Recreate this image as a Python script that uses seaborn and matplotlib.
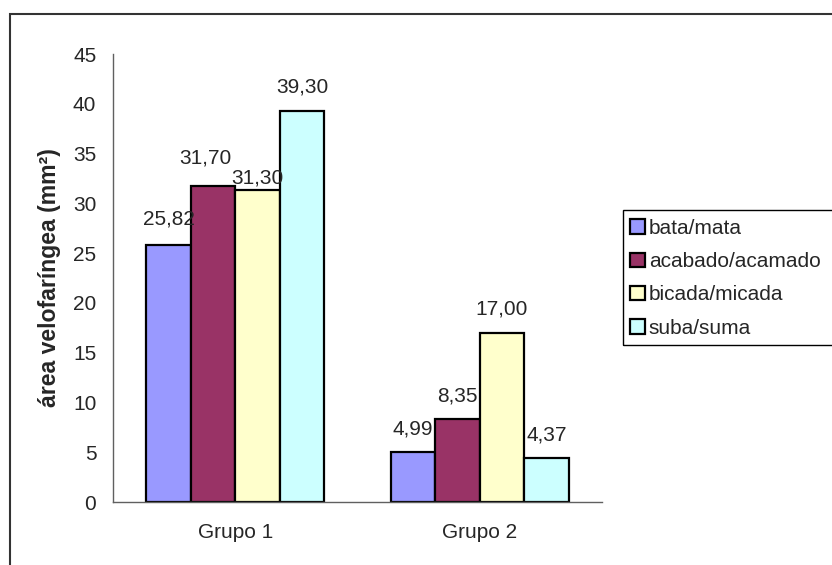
import matplotlib
matplotlib.use("Agg")
import matplotlib.pyplot as plt
from matplotlib.patches import Rectangle
import seaborn as sns
import pandas as pd

grupos = ["Grupo 1", "Grupo 2"]
pares = ["bata/mata", "acabado/acamado", "bicada/micada", "suba/suma"]
area_grupo1 = [25.82, 31.70, 31.30, 39.30]
area_grupo2 = [4.99, 8.35, 17.00, 4.37]
cores = ["#9999FF", "#993366", "#FFFFCC", "#CCFFFF"]
y_ticks = [0, 5, 10, 15, 20, 25, 30, 35, 40, 45]

# label nudges in pixels (dx, dy above the bar top), per group and pair
desloc_grupo1 = [(0, 20), (-8, 23), (0, 7), (0, 18)]
desloc_grupo2 = [(0, 18), (0, 17), (0, 18), (0, 17.5)]

df = pd.DataFrame({
    "grupo": [g for g, vals in zip(grupos, [area_grupo1, area_grupo2]) for _ in vals],
    "par": pares * 2,
    "area": area_grupo1 + area_grupo2,
})

sns.set_style("white")
plt.rcParams["font.family"] = ["Liberation Sans", "DejaVu Sans"]
FS = 15

W, H = 832, 565
fig = plt.figure(figsize=(W / 100, H / 100), dpi=100)
ax = fig.add_axes([113 / W, 1 - 502 / H, (602 - 113) / W, (502 - 54) / H])

sns.barplot(data=df, x="grupo", y="area", hue="par", order=grupos,
            hue_order=pares, palette=cores, width=0.728, edgecolor="black",
            linewidth=1.6, saturation=1, ax=ax, legend=False)

ax.set_xlim(-0.5, 1.5)
ax.set_ylim(0, 45)
ax.set_yticks(y_ticks)
ax.set_yticklabels([str(v) for v in y_ticks], fontsize=FS)
ax.tick_params(axis="y", direction="out", length=6, width=1, color="#606060", pad=6)

# category borders as major ticks, names centred as minor labels
ax.set_xticks([-0.5, 0.5, 1.5])
ax.set_xticklabels(["", "", ""])
ax.set_xticks([0, 1], minor=True)
ax.set_xticklabels(grupos, minor=True, fontsize=FS)
ax.tick_params(axis="x", which="major", direction="out", length=6, width=1, color="#606060")
ax.tick_params(axis="x", which="minor", length=0, pad=15)
ax.set_xlabel("")

for side in ["top", "right"]:
    ax.spines[side].set_visible(False)
for side in ["left", "bottom"]:
    ax.spines[side].set_color("#606060")
    ax.spines[side].set_linewidth(1)

ax.set_ylabel("área velofaríngea (mm²)", fontsize=16.6, fontweight="bold")
ax.yaxis.set_label_coords((50 - 113) / 489, 0.5)
ax.yaxis.label.set_verticalalignment("center")

# value labels above each bar
deslocs = [desloc_grupo1, desloc_grupo2]
for i, cont in enumerate(ax.containers):
    for j, bar in enumerate(cont):
        val = bar.get_height()
        dx, dy = deslocs[j][i]
        ax.annotate(f"{val:.2f}".replace(".", ","),
                    xy=(bar.get_x() + bar.get_width() / 2, val),
                    xytext=(dx, dy), textcoords="offset pixels",
                    ha="center", va="baseline", fontsize=FS)

# legend
handles = [Rectangle((0, 0), 1, 1, facecolor=c, edgecolor="black", linewidth=1.6)
           for c in cores]
leg = fig.legend(handles, pares, loc="upper left",
                 bbox_to_anchor=(630 / W, 1 - 219 / H), frameon=False,
                 fontsize=FS, handlelength=0.7, handleheight=0.7,
                 handletextpad=0.2, labelspacing=0.68, borderpad=0,
                 borderaxespad=0)
fig.add_artist(Rectangle((623 / W, 1 - 345 / H), 0.3, (345 - 210) / H,
                         transform=fig.transFigure, facecolor="none",
                         edgecolor="black", linewidth=1))

# chart frame
fig.add_artist(Rectangle((10 / W, -0.2), 1.2, 1.2 - 14 / H,
                         transform=fig.transFigure, facecolor="none",
                         edgecolor="#333333", linewidth=1.5))

fig.savefig("out.png", dpi=100)
